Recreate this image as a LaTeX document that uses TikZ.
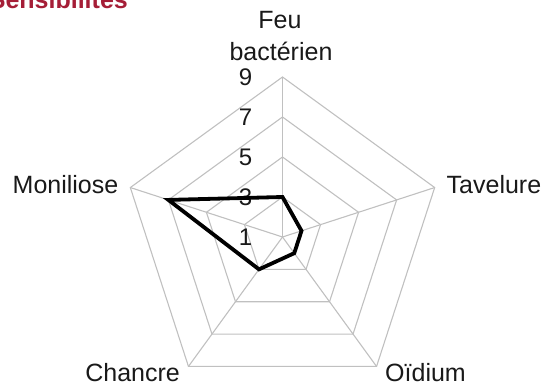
\documentclass[tikz,border=0pt]{standalone}
\usepackage{fontspec}
\setmainfont{Liberation Sans}
\definecolor{gridgray}{RGB}{192,192,192}
\definecolor{titlered}{RGB}{165,30,55}
\definecolor{txt}{RGB}{25,25,25}
\begin{document}
\begin{tikzpicture}[x=1pt,y=1pt,
  grid/.style={draw=gridgray,line width=1.1pt,line join=miter},
  series/.style={draw=black,line width=3.8pt,line join=miter},
  lbl/.style={inner sep=0pt,text=txt,font=\fontsize{25}{30}\selectfont},
  ticklbl/.style={inner sep=0pt,text=txt,font=\fontsize{24}{28}\selectfont,anchor=east},
  titletxt/.style={inner sep=0pt,text=titlered,font=\bfseries\fontsize{25}{30}\selectfont,anchor=base east}]
\useasboundingbox (0,0) rectangle (546,385);
\clip (0,0) rectangle (546,385);
\node[titletxt] (title) at (128,376.5) {Sensibilités};
\coordinate (C) at (282.5,148);
\begin{scope}[shift={(C)}]
  \foreach \r in {40,80,120,160}
    \draw[grid] (90:\r) -- (18:\r) -- (-54:\r) -- (-126:\r) -- (162:\r) -- cycle;
  \foreach \a in {90,18,-54,-126,162}
    \draw[grid] (0,0) -- (\a:160);
  \foreach \v/\r in {1/0,3/40,5/80,7/120,9/160}
    \node[ticklbl] (t\v) at (-30,\r) {\v};
  \draw[series] (90:40) -- (18:20) -- (-54:20) -- (-126:40) -- (162:120) -- cycle;
\end{scope}
\node[lbl,anchor=base] (feu) at (280,356) {Feu};
\node[lbl,anchor=base] (bact) at (281,324) {bactérien};
\node[lbl,anchor=base east] (monil) at (118.5,191.7) {Moniliose};
\node[lbl,anchor=base west] (tav) at (446.5,191.7) {Tavelure};
\node[lbl,anchor=base east] (chan) at (180,3) {Chancre};
\node[lbl,anchor=base west] (oid) at (385,3) {Oïdium};
\end{tikzpicture}
\end{document}
